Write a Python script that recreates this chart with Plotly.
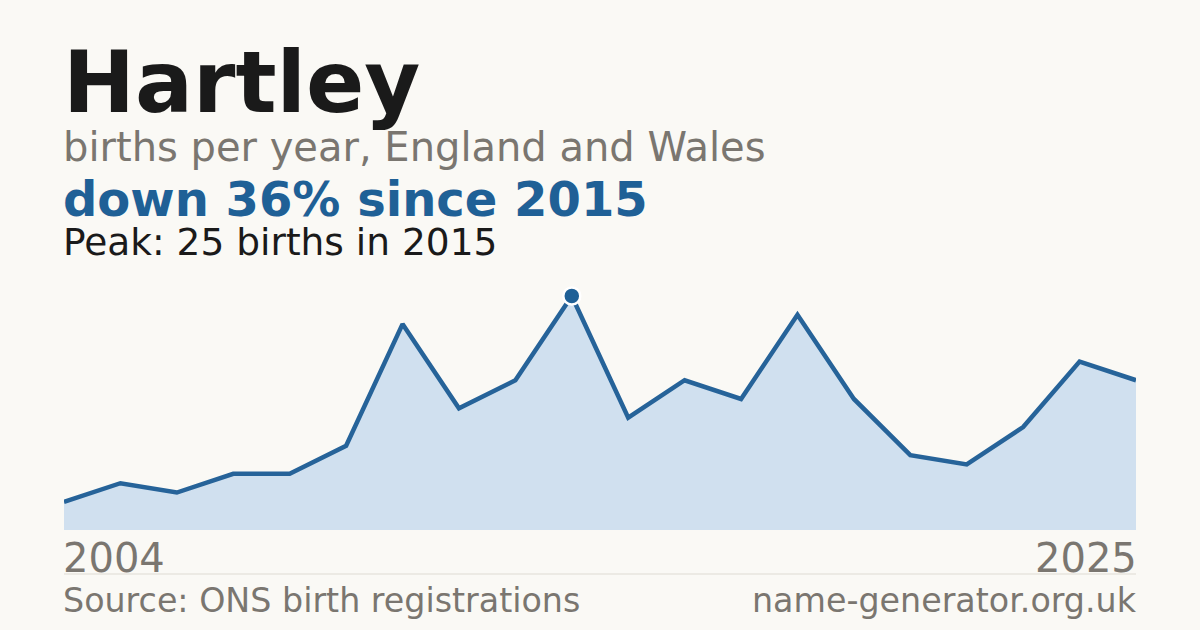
import plotly.graph_objects as go

# data - births per year (two years missing before 2015, so points are evenly spaced by index)
years = ["2004", "2005", "2006", "2007", "2008", "2010", "2011", "2012", "2014", "2015",
         "2016", "2017", "2018", "2019", "2020", "2021", "2022", "2023", "2024", "2025"]
births = [3, 5, 4, 6, 6, 9, 22, 13, 16, 25, 12, 16, 14, 23, 14, 8, 7, 11, 18, 16]

name = "Hartley"
subtitle = "births per year, England and Wales"
source_text = "Source: ONS birth registrations"
site_text = "name-generator.org.uk"

# derived text
peak_val = max(births)
peak_idx = births.index(peak_val)
peak_year = years[peak_idx]
change = round((births[-1] - peak_val) / peak_val * 100)
headline = "down {}% since {}".format(abs(change), peak_year) if change < 0 else "up {}% since {}".format(change, peak_year)
peak_text = "Peak: {} births in {}".format(peak_val, peak_year)

# colours / fonts
bg = "#faf9f5"
blue = "#1f6096"
line_blue = "#266399"
fill_blue = "#d0e0ef"
grey = "#7a7670"
dark = "#1a1a1a"
font = "DejaVu Sans"

W, H = 1200, 630
ML, MR, MT, MB = 64, 64, 280, 100
plot_h = H - MT - MB


def py(y_px):
    # pixel row -> paper coordinate
    return (H - MB - y_px) / plot_h


fig = go.Figure()
fig.add_trace(go.Scatter(x=years, y=births, mode="lines", fill="tozeroy",
                         fillcolor=fill_blue, line=dict(color=line_blue, width=4.5),
                         hoverinfo="skip"))
fig.add_trace(go.Scatter(x=[peak_year], y=[peak_val], mode="markers",
                         marker=dict(size=17, color=blue, line=dict(color="white", width=2.5)),
                         hoverinfo="skip"))

# text, centre row (px), size, colour, bold, anchor, x
annots = [
    (name, 82, 86, dark, True, "left", 0),
    (subtitle, 147, 40, grey, False, "left", 0),
    (headline, 199, 48, blue, True, "left", 0),
    (peak_text, 242, 37.5, dark, False, "left", 0),
    (years[0], 558, 40, grey, False, "left", 0),
    (years[-1], 558, 40, grey, False, "right", 1),
    (source_text, 600, 33.3, grey, False, "left", 0),
    (site_text, 600, 33.3, grey, False, "right", 1),
]
for text, yc, size, col, bold, anchor, xpos in annots:
    fig.add_annotation(text="<b>{}</b>".format(text) if bold else text,
                       xref="paper", yref="paper", x=xpos, y=py(yc),
                       xanchor=anchor, yanchor="middle", showarrow=False,
                       xshift=-3 if anchor == "left" else 3,
                       font=dict(family=font, size=size, color=col))

# separator above footer
fig.add_shape(type="line", xref="paper", yref="paper", x0=0, x1=1, y0=py(574), y1=py(574),
              line=dict(color="#dedbd3", width=1))

fig.update_xaxes(type="category", range=[0, len(years) - 1], visible=False)
fig.update_yaxes(range=[0, peak_val * plot_h / 234], visible=False)
fig.update_layout(width=W, height=H, margin=dict(l=ML, r=MR, t=MT, b=MB),
                  paper_bgcolor=bg, plot_bgcolor=bg, showlegend=False)

# drop the page's default body margin so the card fills the window
fig.write_html("out.html", config={"displayModeBar": False},
               post_script="document.body.style.margin='0';document.body.style.background='%s';" % bg)
